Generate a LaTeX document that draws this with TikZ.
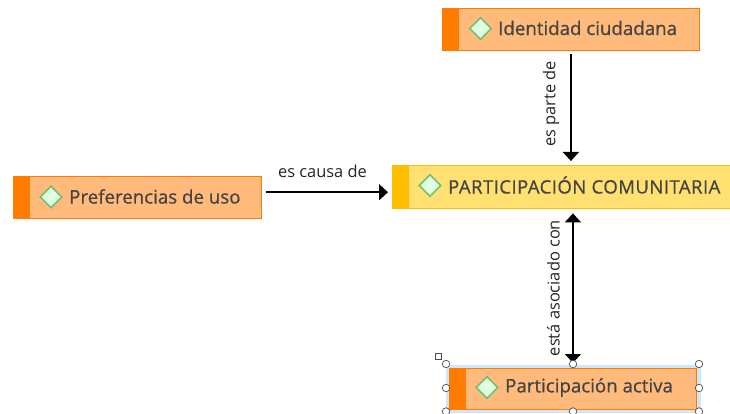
\documentclass[tikz,border=0pt]{standalone}
\usepackage{fontspec}
\setmainfont{Open Sans}
\usetikzlibrary{shapes.geometric,arrows.meta}
\definecolor{orangefill}{HTML}{FFBA7C}
\definecolor{orangeline}{HTML}{FF7C00}
\definecolor{yellowfill}{HTML}{FFE070}
\definecolor{yellowline}{HTML}{FFBF00}
\definecolor{txt}{HTML}{444444}
\definecolor{selblue}{HTML}{CFE6FA}
\newfontfamily\conceptfont[FakeBold=0.7]{Open Sans}
\newfontfamily\capsfont[FakeBold=0.7,LetterSpace=2.6]{Open Sans}
\tikzset{
  x=1pt,y=-1pt,
  conceptbox/.style={draw=#1,line width=1.4pt,anchor=north west,inner sep=0pt},
  stripe/.style={fill=#1,draw=none,anchor=north west,inner sep=0pt},
  marker/.style={diamond,aspect=1,draw=green!55!black!55!white,fill=green!12,line width=1.6pt,minimum size=22pt,inner sep=0pt},
  concept/.style={font=\conceptfont\fontsize{18.7}{20}\selectfont,text=txt,anchor=west,inner sep=0pt},
  capsconcept/.style={font=\capsfont\fontsize{18.5}{20}\selectfont,text=txt,anchor=west,inner sep=0pt},
  linklabel/.style={font=\fontsize{16.4}{18}\selectfont,text=black!85,inner sep=0pt},
  arr/.style={line width=1.7pt,-{Triangle[length=9pt,width=16pt]},draw=black},
  darr/.style={line width=1.7pt,{Triangle[length=9pt,width=16pt]}-{Triangle[length=9pt,width=16pt]},draw=black},
  handle/.style={circle,draw=black!70,fill=white,line width=0.7pt,minimum size=7.5pt,inner sep=0pt},
  cornerhandle/.style={rectangle,draw=black!70,fill=white,line width=0.7pt,minimum size=6pt,inner sep=0pt},
}
\begin{document}
\begin{tikzpicture}
\useasboundingbox (0,0) rectangle (730,414);
\clip (0,0) rectangle (730,414);
\fill[white] (0,0) rectangle (730,414);

% selection frame
\node[draw=selblue,fill=selblue,line width=1.5pt,anchor=north west,minimum width=253pt,minimum height=47pt,inner sep=0pt] (sel) at (446,364.5) {};

% Identidad ciudadana
\node[conceptbox=orangeline,fill=orangefill,minimum width=257pt,minimum height=42pt] (id) at (441.7,8) {};
\node[stripe=orangeline,minimum width=17pt,minimum height=42pt] (idS) at (441.7,8) {};
\node[marker] (idM) at (480.5,28.5) {};
\node[concept] (idT) at (498,28) {Identidad ciudadana};

% Preferencias de uso
\node[conceptbox=orangeline,fill=orangefill,minimum width=247.5pt,minimum height=42pt] (pr) at (13,176) {};
\node[stripe=orangeline,minimum width=17pt,minimum height=42pt] (prS) at (13,176) {};
\node[marker] (prM) at (51,197) {};
\node[concept] (prT) at (69,196.5) {Preferencias de uso};

% Participacion comunitaria
\node[conceptbox=yellowline,fill=yellowfill,minimum width=345pt,minimum height=43pt] (pc) at (392,165) {};
\node[stripe=yellowline,minimum width=17pt,minimum height=43pt] (pcS) at (392,165) {};
\node[marker] (pcM) at (430,185.5) {};
\node[capsconcept] (pcT) at (448,185) {PARTICIPACIÓN COMUNITARIA};

% Participacion activa
\node[conceptbox=orangeline,fill=orangefill,minimum width=246.5pt,minimum height=41pt] (pa) at (449,368) {};
\node[stripe=orangeline,minimum width=17pt,minimum height=41pt] (paS) at (449,368) {};
\node[marker] (paM) at (487,387.5) {};
\node[concept] (paT) at (505,387.5) {Participación activa};

% connectors
\coordinate (idIn) at (pc.north -| id.south);
\coordinate (prOut) at ([xshift=4pt,yshift=5.5pt]pr.east);
\coordinate (pcIn) at (pc.west |- prOut);
\coordinate (pcOut) at (pc.south -| pa.north);
\draw[arr] ([yshift=-3pt]id.south) -- ([yshift=4pt]idIn);
\draw[arr] (prOut) -- ([xshift=-4pt]pcIn);
\draw[darr] ([yshift=-4pt]pcOut) -- ([yshift=5pt]pa.north);

% labels
\node[linklabel] (l1) at (322.5,171) {es causa de};
\node[linklabel,rotate=90] (l2) at (551,104) {es parte de};
\node[linklabel,rotate=90] (l3) at (553.5,288) {está asociado con};

% handles
\node[cornerhandle] (h0) at (438.5,356.5) {};
\node[handle] (h1) at (446,364) {};
\node[handle] (h2) at (573,364) {};
\node[handle] (h3) at (699,364) {};
\node[handle] (h4) at (446,388) {};
\node[handle] (h5) at (699,388) {};
\node[handle] (h6) at (446,411.5) {};
\node[handle] (h7) at (573,411.5) {};
\node[handle] (h8) at (699,411.5) {};
\end{tikzpicture}
\end{document}
